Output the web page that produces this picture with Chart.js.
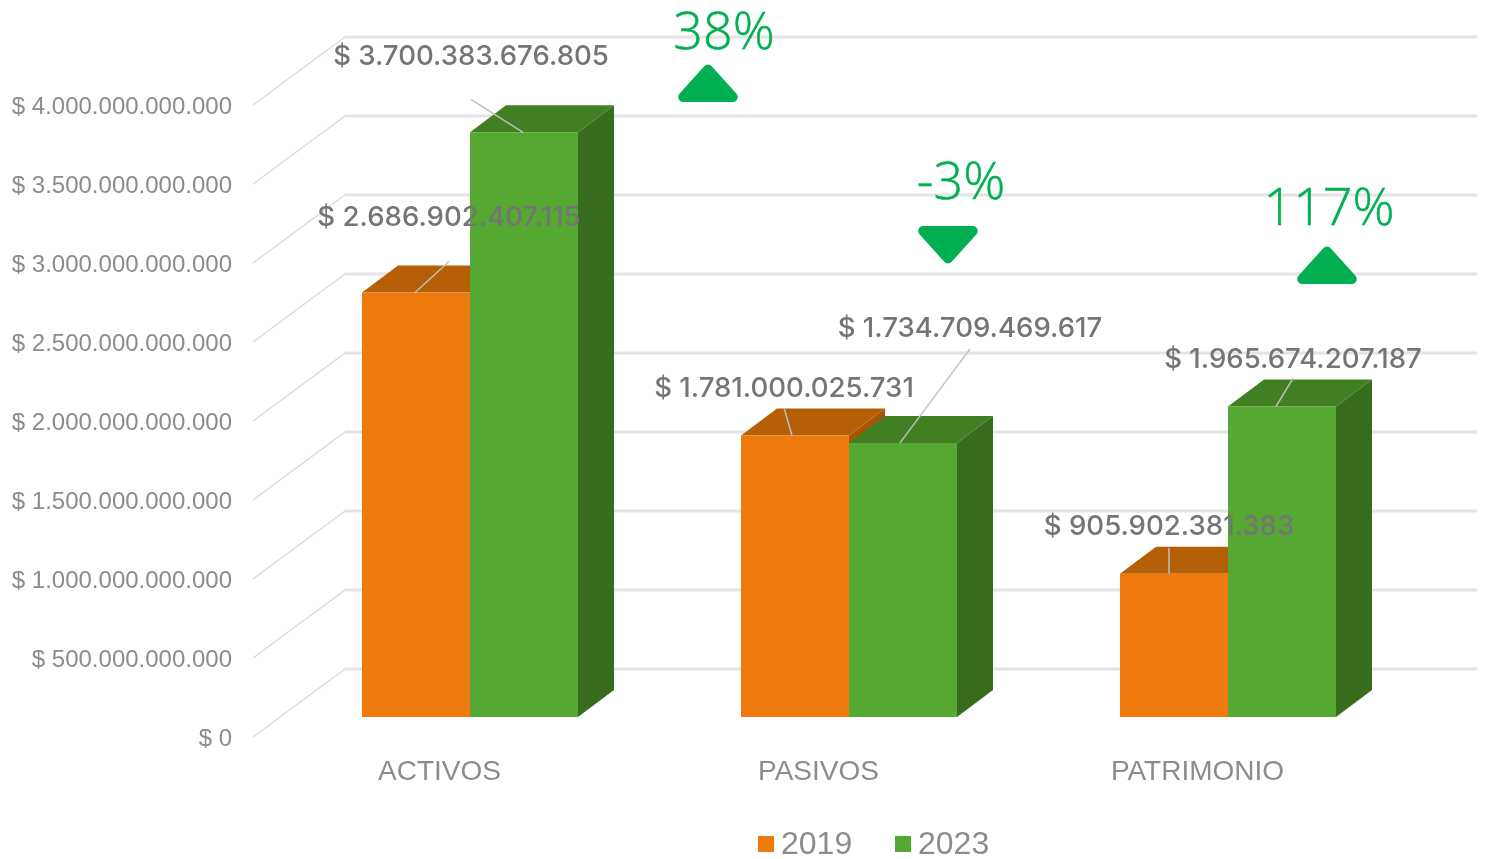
<!DOCTYPE html>
<html>
<head>
<meta charset="utf-8">
<title>Activos, pasivos y patrimonio</title>
<script src="https://cdn.jsdelivr.net/npm/chart.js@4/dist/chart.umd.min.js"></script>
<style>
    html, body { margin: 0; padding: 0; background: #fff; }
    canvas { display: block; }
</style>
</head>
<body>
<canvas id="chart" width="1486" height="859"></canvas>
<script>
// ── Data ────────────────────────────────────────────────────────

const categories = ['ACTIVOS', 'PASIVOS', 'PATRIMONIO'];
const values2019 = [2686902407115, 1781000025731, 905902381383];
const values2023 = [3700383676805, 1734709469617, 1965674207187];
const changeLabels = ['38%', '-3%', '117%'];
const changeUp = [true, false, true];

// ── Styling ─────────────────────────────────────────────────────

const DEPTH_X = 36, DEPTH_Y = 27;       // bar depth
const WALL_X = 92, WALL_Y = 48;         // back wall offset from axis plane
const AXIS_DROP = 20;                   // floor sits below the bar base
const WALL_RIGHT = 1477;
const GREY = '#8c8c8c';
const LABEL_GREY = '#757575';
const UP_GREEN = '#00b050';

const palette = [
    { front: '#ee7a0d', top: '#b55f07', side: '#a85405' },
    { front: '#55a932', top: '#408022', side: '#386d1e' },
];

// label centre, leader start and leader tip, relative to the bar's top centre
const labelOffsets = [
    [{ dx: 33, dy: -75, lead: 44, tip: -1 }, { dx: -11, dy: -47, lead: 19, tip: -3 }, { dx: -5, dy: -47, lead: 21, tip: -5 }],
    [{ dx: -53, dy: -76, lead: 43, tip: -1 }, { dx: 67, dy: -114, lead: 20, tip: -3 }, { dx: 11, dy: -47, lead: 19, tip: -6 }],
];

// change text and triangle, x relative to the category centre
const changeLayout = [
    { textX: 254, textY: 34, triX: 238, triTop: 66 },
    { textX: 112, textY: 184, triX: 99, triTop: 226 },
    { textX: 101, textY: 210, triX: 99, triTop: 248 },
];

// ── Formatting ──────────────────────────────────────────────────

function formatPesos(value) {
    return '$ ' + String(value).replace(/\B(?=(\d{3})+(?!\d))/g, '.');
}

// ── Plugins ─────────────────────────────────────────────────────

function fillPoly(ctx, color, pts) {
    ctx.fillStyle = color;
    ctx.beginPath();
    pts.forEach((p, i) => i ? ctx.lineTo(p[0], p[1]) : ctx.moveTo(p[0], p[1]));
    ctx.closePath();
    ctx.fill();
}

// back wall and the top/side faces of the bars, all behind the front faces
const depthPlugin = {
    id: 'depth',
    beforeDatasetsDraw(chart) {
        const { ctx, scales: { y } } = chart;
        const wallLeft = 253;
        ctx.save();
        y.ticks.forEach(t => {
            const py = y.getPixelForValue(t.value);
            ctx.strokeStyle = '#d9d9d9';
            ctx.lineWidth = 1.5;
            ctx.beginPath();
            ctx.moveTo(wallLeft, py + AXIS_DROP);
            ctx.lineTo(wallLeft + WALL_X, py - WALL_Y);
            ctx.stroke();
            ctx.strokeStyle = '#e4e4e4';
            ctx.lineWidth = 3;
            ctx.beginPath();
            ctx.moveTo(wallLeft + WALL_X, py - WALL_Y);
            ctx.lineTo(WALL_RIGHT, py - WALL_Y);
            ctx.stroke();
        });
        chart.data.datasets.forEach((ds, d) => {
            chart.getDatasetMeta(d).data.forEach(bar => {
                const l = bar.x - bar.width / 2, r = bar.x + bar.width / 2;
                fillPoly(ctx, palette[d].side, [
                    [r, bar.y], [r + DEPTH_X, bar.y - DEPTH_Y],
                    [r + DEPTH_X, bar.base - DEPTH_Y], [r, bar.base],
                ]);
                fillPoly(ctx, palette[d].top, [
                    [l, bar.y], [r, bar.y],
                    [r + DEPTH_X, bar.y - DEPTH_Y], [l + DEPTH_X, bar.y - DEPTH_Y],
                ]);
            });
        });
        ctx.restore();
    },
};

function triangle(ctx, cx, top, up) {
    const w = 36, rad = 5;
    const pts = up
        ? [[cx, top - 4], [cx + w, top + 36], [cx - w, top + 36]]
        : [[cx - w, top], [cx + w, top], [cx, top + 40]];
    ctx.fillStyle = UP_GREEN;
    ctx.beginPath();
    ctx.moveTo((pts[2][0] + pts[0][0]) / 2, (pts[2][1] + pts[0][1]) / 2);
    for (let i = 0; i < 3; i++) {
        const a = pts[i], b = pts[(i + 1) % 3];
        ctx.arcTo(a[0], a[1], b[0], b[1], rad);
    }
    ctx.closePath();
    ctx.fill();
}

// value labels with leader lines, change markers and the legend
const annotationPlugin = {
    id: 'annotations',
    afterDatasetsDraw(chart) {
        const { ctx, scales: { x } } = chart;
        ctx.save();
        ctx.textAlign = 'center';
        ctx.textBaseline = 'middle';

        chart.data.datasets.forEach((ds, d) => {
            chart.getDatasetMeta(d).data.forEach((bar, i) => {
                const o = labelOffsets[d][i];
                const lx = bar.x + o.dx, ly = bar.y + o.dy;
                ctx.strokeStyle = '#bfbfbf';
                ctx.lineWidth = 1.5;
                ctx.beginPath();
                ctx.moveTo(lx, ly + o.lead);
                ctx.lineTo(bar.x + o.tip, bar.y);
                ctx.stroke();
                ctx.fillStyle = LABEL_GREY;
                ctx.font = "500 27.6px 'Inter', sans-serif";
                ctx.fillText(formatPesos(ds.data[i]), lx, ly);
            });
        });

        changeLabels.forEach((text, i) => {
            const c = x.getPixelForValue(i), pos = changeLayout[i];
            ctx.fillStyle = UP_GREEN;
            ctx.strokeStyle = UP_GREEN;
            ctx.lineWidth = 0.5;
            ctx.font = "300 52px 'Open Sans', sans-serif";
            ctx.fillText(text, c + pos.textX, pos.textY);
            ctx.strokeText(text, c + pos.textX, pos.textY);
            triangle(ctx, c + pos.triX, pos.triTop, changeUp[i]);
        });

        // legend
        ctx.textAlign = 'left';
        ctx.font = "32px 'Liberation Sans', sans-serif";
        [758, 895].forEach((lx, d) => {
            ctx.fillStyle = palette[d].front;
            ctx.fillRect(lx, 836, 16, 16);
            ctx.fillStyle = GREY;
            ctx.fillText(chart.data.datasets[d].label, lx + 23, 845);
        });
        ctx.restore();
    },
};

// ── Chart ───────────────────────────────────────────────────────

new Chart(document.getElementById('chart'), {
    type: 'bar',
    data: {
        labels: categories,
        datasets: [
            { label: '2019', data: values2019, backgroundColor: palette[0].front },
            { label: '2023', data: values2023, backgroundColor: palette[1].front },
        ],
    },
    options: {
        responsive: false,
        animation: false,
        layout: { padding: { top: 85, right: 68.5, bottom: 0, left: 0 } },
        datasets: { bar: { categoryPercentage: 216 / 379, barPercentage: 1 } },
        plugins: { legend: { display: false }, tooltip: { enabled: false } },
        scales: {
            x: {
                grid: { display: false },
                border: { display: false },
                ticks: {
                    color: GREY,
                    font: { family: "'Liberation Sans', sans-serif", size: 28 },
                    padding: 30,
                    labelOffset: -30.5,
                    maxRotation: 0,
                },
                afterFit(scale) { scale.height = 142; },
            },
            y: {
                min: 0,
                max: 4000000000000,
                grid: { display: false },
                border: { display: false },
                ticks: {
                    stepSize: 500000000000,
                    color: GREY,
                    font: { family: "'Liberation Sans', sans-serif", size: 24 },
                    padding: 40.5,
                    labelOffset: AXIS_DROP + 2,
                    callback: (v) => formatPesos(v),
                },
                afterFit(scale) { scale.width = 280.5; },
            },
        },
    },
    plugins: [depthPlugin, annotationPlugin],
});
</script>
</body>
</html>
